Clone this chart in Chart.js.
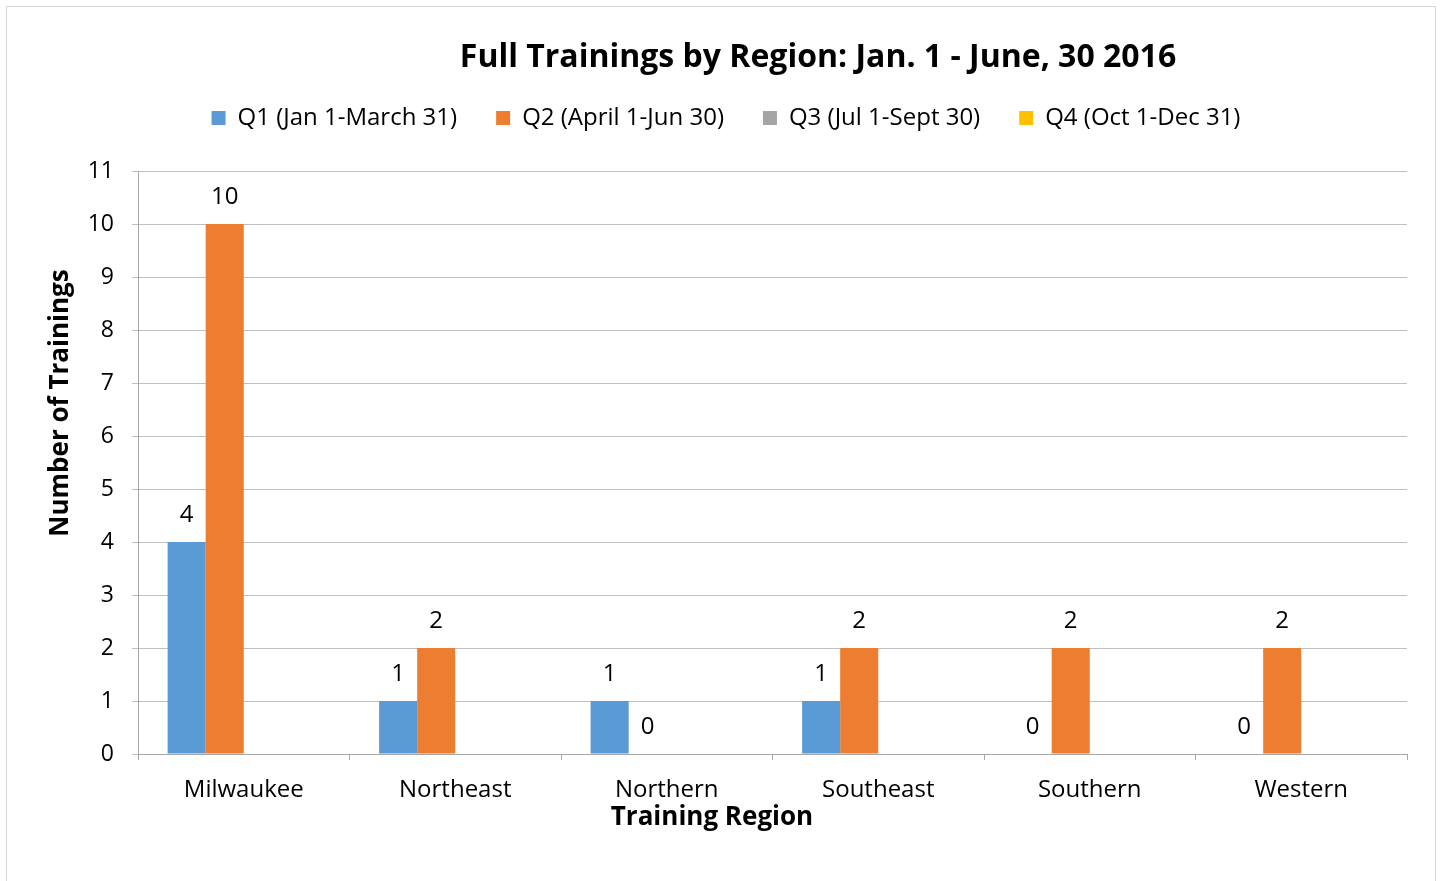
<!DOCTYPE html>
<html>
<head>
<meta charset="utf-8">
<script src="https://cdn.jsdelivr.net/npm/chart.js@4.4.0/dist/chart.umd.min.js"></script>
<style>
  html, body { margin: 0; padding: 0; background: #fff; }
  #chart { display: block; }
</style>
</head>
<body>
<canvas id="chart" width="1442" height="881"></canvas>
<script>
// Chart data
const regions = ["Milwaukee", "Northeast", "Northern", "Southeast", "Southern", "Western"];
const seriesNames = ["Q1 (Jan 1-March 31)", "Q2 (April 1-Jun 30)", "Q3 (Jul 1-Sept 30)", "Q4 (Oct 1-Dec 31)"];
const q1Values = [4, 1, 1, 1, 0, 0];
const q2Values = [10, 2, 0, 2, 2, 2];
const q3Values = [null, null, null, null, null, null];
const q4Values = [null, null, null, null, null, null];
const yTicks = [0, 1, 2, 3, 4, 5, 6, 7, 8, 9, 10, 11];

const chartTitle = "Full Trainings by Region: Jan. 1 - June, 30 2016";
const xTitle = "Training Region";
const yTitle = "Number of Trainings";

const FONT = "'Open Sans', sans-serif";

// outer frame + titles placed like the Excel original
const textPlugin = {
  id: "excelText",
  beforeUpdate(chart) {
    // leave some room between the legend and the plot
    const lg = chart.legend;
    if (lg && !lg._extraRoom) {
      const fit = lg.fit.bind(lg);
      lg.fit = function () { fit(); this.height += 31; };
      lg._extraRoom = true;
    }
  },
  beforeDraw(chart) {
    const ctx = chart.ctx;
    ctx.save();
    ctx.fillStyle = "#fff";
    ctx.fillRect(0, 0, chart.width, chart.height);
    ctx.strokeStyle = "#d9d9d9";
    ctx.lineWidth = 1;
    ctx.strokeRect(6.5, 6.5, 1429, 890);
    ctx.restore();
  },
  afterDraw(chart) {
    const ctx = chart.ctx;
    ctx.save();
    ctx.fillStyle = "#000";
    ctx.textAlign = "center";
    ctx.textBaseline = "middle";
    ctx.font = "bold 32px " + FONT;
    ctx.fillText(chartTitle, 818, 58);
    ctx.font = "bold 26px " + FONT;
    ctx.fillText(xTitle, 712, 818);
    ctx.translate(61, 403);
    ctx.rotate(-Math.PI / 2);
    ctx.fillText(yTitle, 0, 0);
    ctx.restore();
  }
};

// value labels above the bars
const valueLabels = {
  id: "valueLabels",
  afterDatasetsDraw(chart) {
    const ctx = chart.ctx;
    ctx.save();
    ctx.fillStyle = "#000";
    ctx.font = "24px " + FONT;
    ctx.textAlign = "center";
    ctx.textBaseline = "middle";
    chart.data.datasets.forEach((ds, i) => {
      const meta = chart.getDatasetMeta(i);
      meta.data.forEach((bar, j) => {
        const v = ds.data[j];
        if (v === null || v === undefined) return;
        ctx.fillText(String(v), bar.x, bar.y - 27);
      });
    });
    ctx.restore();
  }
};

const colors = ["#5B9BD5", "#ED7D31", "#A5A5A5", "#FFC000"];
const allValues = [q1Values, q2Values, q3Values, q4Values];

const ctx = document.getElementById("chart").getContext("2d");
new Chart(ctx, {
  type: "bar",
  data: {
    labels: regions,
    datasets: allValues.map((vals, i) => ({
      label: seriesNames[i],
      data: vals,
      backgroundColor: colors[i],
      borderWidth: 0,
      categoryPercentage: 0.72,
      barPercentage: 1.0
    }))
  },
  options: {
    responsive: false,
    animation: false,
    layout: { padding: { top: 67, right: 35, left: 45, bottom: 0 } },
    plugins: {
      title: { display: false },
      tooltip: { enabled: false },
      legend: {
        position: "top",
        labels: {
          boxWidth: 14,
          boxHeight: 14,
          padding: 39,
          color: "#000",
          font: { family: FONT, size: 24 }
        }
      }
    },
    scales: {
      x: {
        offset: true,
        grid: {
          offset: true,
          drawOnChartArea: false,
          tickLength: 6,
          color: "#a6a6a6"
        },
        border: { color: "#a6a6a6" },
        ticks: { color: "#000", padding: 16, font: { family: FONT, size: 24 } },
        afterFit(scale) { scale.height = 127; }
      },
      y: {
        min: 0,
        max: 11,
        afterBuildTicks(scale) { scale.ticks = yTicks.map(v => ({ value: v })); },
        grid: { color: "#bfbfbf", tickLength: 6 },
        border: { color: "#a6a6a6" },
        ticks: { color: "#000", padding: 18, font: { family: FONT, size: 23 } },
        afterFit(scale) { scale.width = 93; }
      }
    }
  },
  plugins: [textPlugin, valueLabels]
});
</script>
</body>
</html>
